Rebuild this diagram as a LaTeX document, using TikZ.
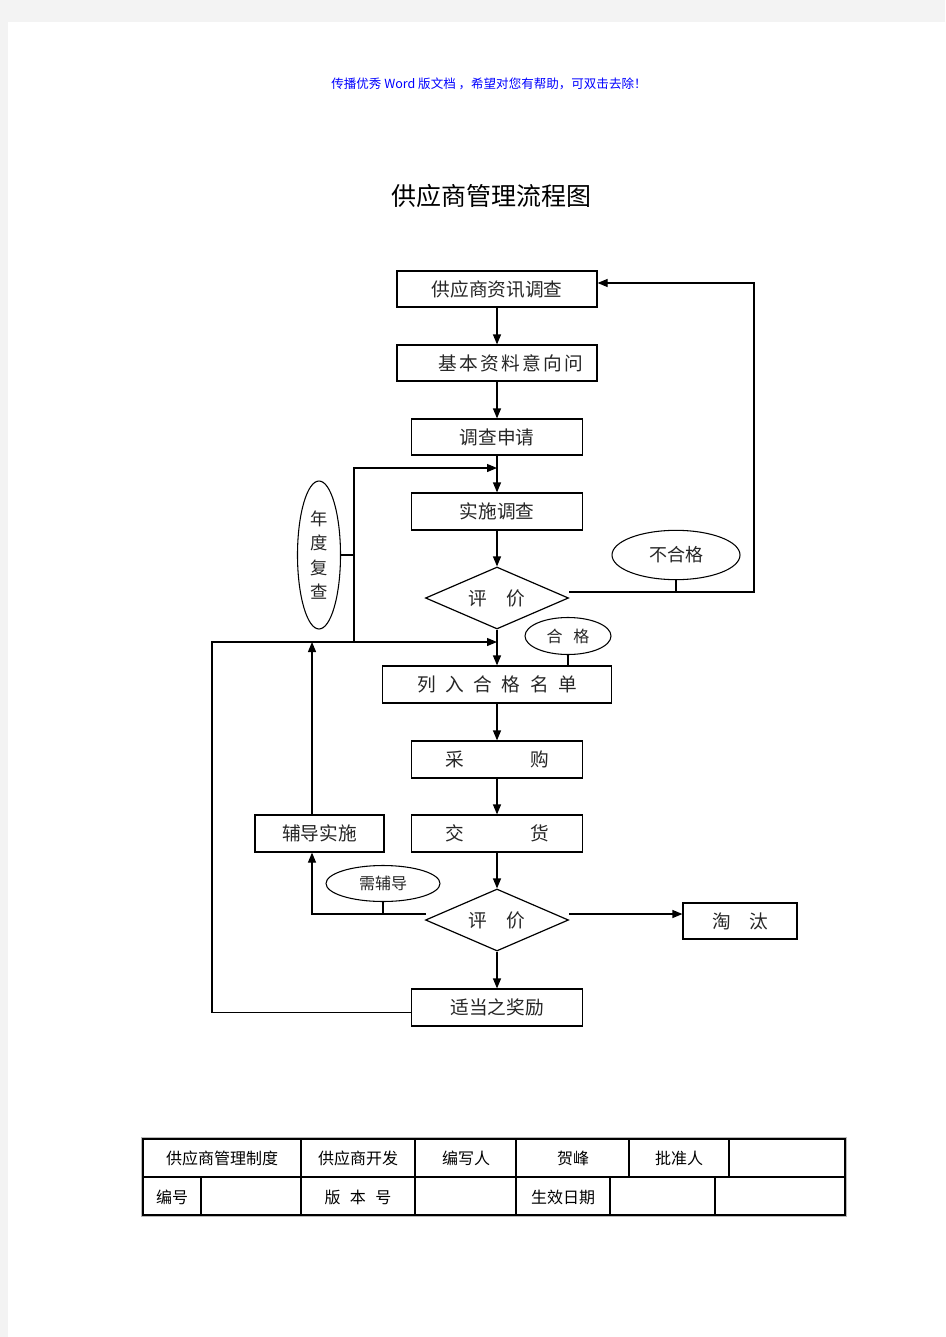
\documentclass[tikz,border=0pt]{standalone}
\usepackage{fontspec}
\setmainfont{Noto Sans CJK SC}
\usetikzlibrary{arrows.meta,shapes.geometric,calc}
\definecolor{pagebg}{HTML}{F3F3F3}
\begin{document}
\begin{tikzpicture}[x=0.75pt,y=-0.75pt,
  box/.style={draw, line width=0.9pt, inner sep=0pt, text=black!85, font=\fontsize{14pt}{16pt}\selectfont},
  dia/.style={diamond, draw, line width=0.9pt, inner sep=0pt, aspect=2.3, minimum width=107.25pt, minimum height=46.5pt, text=black!85, font=\fontsize{14pt}{16pt}\selectfont},
  oval/.style={ellipse, draw, line width=0.8pt, inner sep=0pt, text=black!85},
  flow/.style={line width=0.9pt},
  arr/.style={flow, -{Triangle[length=7.5pt,width=6pt]}},
  cell/.style={inner sep=0pt, font=\fontsize{12pt}{14pt}\selectfont},
  tline/.style={line width=1.1pt}
]
\useasboundingbox (0,0) rectangle (945,1337);
\fill[pagebg] (0,0) rectangle (945,1337);
\fill[white] (8,22) rectangle (945,1337);

% header and title
\node[text=blue, inner sep=0pt, font=\fontsize{9.4pt}{11pt}\selectfont] (hdr) at (489,84) {传播优秀 Word 版文档 ，希望对您有帮助，可双击去除！};
\node[inner sep=0pt, font=\fontsize{18.75pt}{22pt}\selectfont] (ttl) at (491,196) {供应商管理流程图};

% main boxes
\node[box, minimum width=150pt, minimum height=27pt] (b1) at (497,289) {供应商资讯调查};
\node[box, minimum width=150pt, minimum height=27pt] (b2) at (497,363) {\hspace*{20pt}基\kern1.75pt本\kern1.75pt资\kern1.75pt料\kern1.75pt意\kern1.75pt向\kern1.75pt问};
\node[box, minimum width=128.25pt, minimum height=27pt] (b3) at (497,437) {调查申请};
\node[box, minimum width=128.25pt, minimum height=27.75pt] (b4) at (497,511.5) {实施调查};
\node[dia] (d1) at (497,598) {评\hspace{15pt}价};
\node[box, minimum width=171.75pt, minimum height=27.75pt] (b6) at (497,684.5) {列\kern7.2pt入\kern7.2pt合\kern7.2pt格\kern7.2pt名\kern7.2pt单};
\node[box, minimum width=128.25pt, minimum height=27.75pt] (b7) at (497,759.5) {采\hspace{50pt}购};
\node[box, minimum width=128.25pt, minimum height=27.75pt] (b8) at (497,833.5) {交\hspace{50pt}货};
\node[box, minimum width=96.75pt, minimum height=27.75pt] (fd) at (319.5,833.5) {辅导实施};
\node[dia] (d2) at (497,920) {评\hspace{15pt}价};
\node[box, minimum width=85.5pt, minimum height=27pt] (tt) at (740,921) {淘\hspace{13.7pt}汰};
\node[box, minimum width=128.25pt, minimum height=27.75pt] (b12) at (497,1007.5) {适当之奖励};

% ellipses
\node[oval, minimum width=32.25pt, minimum height=111pt, align=center, font=\fontsize{13pt}{18.4pt}\selectfont] (nd) at (319,555) {年\\度\\复\\查};
\node[oval, minimum width=96pt, minimum height=37pt, font=\fontsize{13.5pt}{16pt}\selectfont] (bh) at (676,555) {不合格};
\node[oval, minimum width=64.5pt, minimum height=27.75pt, font=\fontsize{12pt}{14pt}\selectfont] (hg) at (568,636) {合\kern8pt格};
\node[oval, minimum width=85.5pt, minimum height=27pt, font=\fontsize{12pt}{14pt}\selectfont] (xf) at (383,883.5) {需辅导};

% coordinates for connector bends
\coordinate (r1) at (569,592);
\coordinate (r2) at (754,592);
\coordinate (j1) at (354,642);
\coordinate (j2) at (354,468);
\coordinate (lft) at (212,642);
\coordinate (fx) at (312,642);
\coordinate (l2) at (426,914);
\coordinate (r3) at (569,914);

% main flow
\draw[arr] (b1) -- (b2);
\draw[arr] (b2) -- (b3);
\draw[arr] (b3) -- (b4);
\draw[arr] (b4) -- (d1);
\draw[arr] (d1) -- (b6);
\draw[arr] (b6) -- (b7);
\draw[arr] (b7) -- (b8);
\draw[arr] (b8) -- (d2);
\draw[arr] (d2) -- (b12);
\draw[arr] (r3) -- (r3 -| tt.west);

% not qualified loop
\draw[arr] (r1) -- (r2) |- ([yshift=4.5pt]b1.east);
\draw[flow] (bh.south) -- (bh.south |- r1);

% qualified stub
\draw[flow] (hg.south) -- (hg.south |- b6.north);

% annual review loop
\draw[arr] (j1) -- (j2) -- (b3.south |- j2);
\draw[flow] (nd.east) -- (nd.east -| j1);

% reward loop
\draw[arr] ([yshift=-4pt]b12.west) -| (lft) -- (d1.south |- lft);

% coaching loop
\draw[arr] (fd.north -| fx) -- (fx);
\draw[arr] (l2) -| (fd.south -| fx);
\draw[flow] (xf.south) -- (xf.south |- l2);

% table
\draw[gray!55, line width=0.6pt] (141.5,1137.5) rectangle (846.5,1216.5);
\draw[tline] (143,1139) rectangle (845,1215);
\draw[tline] (143,1177) -- (845,1177);
\foreach \x in {301,415,516,629,729} \draw[tline] (\x,1139) -- (\x,1177);
\foreach \x in {201,301,415,516,610,715} \draw[tline] (\x,1177) -- (\x,1215);
\node[cell] (c11) at (222,1158) {供应商管理制度};
\node[cell] (c12) at (358,1158) {供应商开发};
\node[cell] (c13) at (466,1158) {编写人};
\node[cell] (c14) at (573,1158) {贺峰};
\node[cell] (c15) at (679,1158) {批准人};
\node[cell] (c21) at (172,1197) {编号};
\node[cell] (c22) at (358,1197) {版\kern7pt本\kern7pt号};
\node[cell] (c23) at (563,1197) {生效日期};
\end{tikzpicture}
\end{document}
